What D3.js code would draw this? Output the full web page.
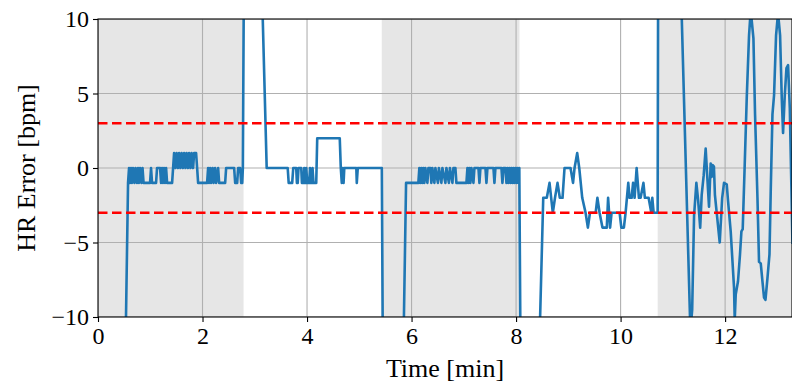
<!DOCTYPE html>
<html>
<head>
<meta charset="utf-8">
<title>HR Error</title>
<script src="https://cdn.jsdelivr.net/npm/d3@7"></script>
<style>
  body { margin: 0; background: #fff; }
  svg { display: block; font-family: "Liberation Serif", "Times New Roman", serif; }
</style>
</head>
<body>
<svg width="792" height="383"></svg>
<script>
// time in minutes and HR error in bpm
var timeMin = [
  0.527, 0.575, 0.594, 0.613, 0.632, 0.651, 0.670, 0.699, 0.718, 0.747, 0.766, 0.785, 0.805, 0.833, 0.852, 0.872,
  0.996, 1.015, 1.034, 1.111, 1.130, 1.188, 1.207, 1.226, 1.245, 1.264, 1.284, 1.303, 1.322, 1.418, 1.437,
  1.456, 1.485, 1.504, 1.533, 1.552, 1.580, 1.600, 1.628, 1.648, 1.676, 1.695, 1.724, 1.743, 1.772, 1.791, 1.820, 1.839, 1.877, 1.897, 1.916,
  2.088, 2.107, 2.126, 2.146, 2.165, 2.193, 2.213, 2.241, 2.261, 2.299, 2.318, 2.433, 2.452, 2.605, 2.625, 2.663, 2.682, 2.720, 2.740, 2.760, 2.772, 2.792,
  3.148, 3.228, 3.630, 3.649, 3.716, 3.736, 3.793, 3.806, 3.822, 3.837, 3.889, 3.902, 3.933, 3.946, 3.960, 3.971, 3.985, 4.004, 4.042, 4.056, 4.067, 4.094, 4.105, 4.124, 4.176,
  4.195, 4.626, 4.646, 4.665, 4.684, 4.699, 4.713, 4.943, 4.952, 4.971, 5.431, 5.450,
  5.845, 5.895, 6.130, 6.149, 6.169, 6.188, 6.207, 6.226, 6.245, 6.264, 6.303, 6.322, 6.360, 6.379, 6.398, 6.437, 6.456, 6.504, 6.523,
  6.571, 6.590, 6.648, 6.667, 6.714, 6.734, 6.782, 6.801, 6.839, 6.858, 7.050, 7.069, 7.088, 7.107, 7.126, 7.146, 7.184, 7.203,
  7.280, 7.299, 7.318, 7.414, 7.433, 7.452, 7.567, 7.586, 7.605, 7.720, 7.739, 7.759, 7.797, 7.816, 7.835, 7.854, 7.874, 7.893,
  7.912, 7.931, 7.950, 7.969, 7.989, 8.008, 8.027, 8.046, 8.062, 8.084,
  8.445, 8.520, 8.588, 8.640, 8.703, 8.745, 8.793, 8.837, 8.889, 8.927, 9.042, 9.090, 9.119, 9.170, 9.209, 9.266, 9.330, 9.374, 9.414,
  9.523, 9.556, 9.598, 9.653, 9.736, 9.761, 9.799, 9.828, 9.981, 10.014, 10.063, 10.096, 10.147, 10.172, 10.211, 10.239, 10.268,
  10.307, 10.351, 10.383, 10.437, 10.465, 10.536, 10.588, 10.607, 10.632, 10.709, 10.718,
  11.120, 11.171, 11.328, 11.345, 11.370, 11.406, 11.450, 11.485, 11.523, 11.552, 11.590, 11.628, 11.657, 11.692, 11.724, 11.743,
  11.762, 11.786, 11.805, 11.839, 11.897, 11.944, 11.979, 12.031, 12.056, 12.107, 12.171, 12.184, 12.203, 12.247, 12.285, 12.312,
  12.337, 12.375, 12.414, 12.458, 12.490, 12.542, 12.573, 12.619, 12.649, 12.682, 12.714, 12.745, 12.772, 12.810, 12.849, 12.874,
  12.906, 12.937, 12.975, 13.013, 13.052, 13.084, 13.109, 13.142, 13.174, 13.205, 13.238, 13.270, 13.289
];
var hrError = [
  -12, -1, 0, -1, 0, -1, 0, -1, 0, -1, 0, -1, 0, -1, 0, -1,
  -1, 0, -1, -1, 0, 0, -1, 0, -1, 0, -1, 0, -1, -1, 0,
  1, 0, 1, 0, 1, 0, 1, 0, 1, 0, 1, 0, 1, 0, 1, 0, 1, 1, 0, -1,
  -1, 0, -1, 0, -1, 0, -1, 0, -1, 0, -1, -1, 0, 0, -1, -1, 0, 0, -1, -1, 0, 13,
  10.6, 0, 0, -1, -1, 0, 0, -1, -1, 0, 0, -1, -1, 0, -1, -1, 0, -1, -1, 0, -1, -1, 0, -1, -1,
  2, 2, 0, -1, 0, -1, 0, 0, -1, 0, 0, -12,
  -12, -1, -1, 0, -1, 0, -1, 0, -1, 0, -1, 0, 0, -1, 0, -1, 0, -1, 0,
  -1, 0, -1, 0, -1, 0, -1, 0, 0, -1, -1, 0, -1, 0, -1, 0, -1, 0,
  0, -1, 0, 0, -1, 0, 0, -1, 0, 0, -1, 0, 0, -1, 0, -1, 0, -1,
  0, -1, 0, -1, 0, -1, 0, -1, 0, -12,
  -12, -2, -2, -1, -3, -2, -1, -2, -2, 0, 0, -1, 0, 1, 0, -2, -3, -4, -3,
  -3, -2, -3, -4, -4, -2, -4, -3, -3, -4, -4, -3, -1, -2, -2, -1, -2,
  0, -2, -2, -1, -2, -2, -3, -2, -3, -3, 12,
  12, 10, -10, -10.6, -9.5, -3.2, -1, -2.2, -4, -1.8, -0.5, 1.3, -0.5, -2.6, 0.3, -0.6,
  0.2, 0.1, -1.8, -3, -5, -2, -1, -1.1, -2.2, -4.25, -8.05, -10.2, -8.5, -7.6, -5.8, -4.25,
  -4.1, 0.2, 4.7, 8.9, 10.6, 8.7, 3.6, -2, -6.3, -6.4, -7.6, -8.7, -8.85, -7.4, -5.8, -1.35,
  3.6, 4.9, 8.9, 10.4, 8.9, 4.7, 2.35, 4.9, 6.7, 6.9, 4, -1.6, -5.1
];
var spanStart = [0, 5.43, 10.71];
var spanEnd = [2.785, 8.065, 13.4];
var thresholds = [3, -3];
var xTicks = [0, 2, 4, 6, 8, 10, 12];
var yTicks = [-10, -5, 0, 5, 10];

var svg = d3.select("svg"),
    plotLeft = 98, plotRight = 792, plotTop = 19, plotBottom = 317;

var x = d3.scaleLinear().domain([0, 13.28]).range([plotLeft, plotRight]);
var y = d3.scaleLinear().domain([-10, 10]).range([plotBottom, plotTop]);

svg.append("defs").append("clipPath").attr("id", "clip")
   .append("rect")
   .attr("x", plotLeft).attr("y", plotTop)
   .attr("width", plotRight - plotLeft).attr("height", plotBottom - plotTop);

var plot = svg.append("g").attr("clip-path", "url(#clip)");

// shaded intervals
plot.selectAll(".span")
    .data(spanStart)
    .enter().append("rect")
    .attr("x", function(d) { return x(d); })
    .attr("y", plotTop)
    .attr("width", function(d, i) { return x(spanEnd[i]) - x(d); })
    .attr("height", plotBottom - plotTop)
    .attr("fill", "#e6e6e6");

// grid
plot.selectAll(".gx").data(xTicks).enter().append("line")
    .attr("x1", function(d) { return x(d); }).attr("x2", function(d) { return x(d); })
    .attr("y1", plotTop).attr("y2", plotBottom)
    .attr("stroke", "#b0b0b0").attr("stroke-width", 1.1);
plot.selectAll(".gy").data(yTicks).enter().append("line")
    .attr("x1", plotLeft).attr("x2", plotRight)
    .attr("y1", function(d) { return y(d); }).attr("y2", function(d) { return y(d); })
    .attr("stroke", "#b0b0b0").attr("stroke-width", 1.1);

// HR error line
var line = d3.line()
    .x(function(d) { return x(d); })
    .y(function(d, i) { return y(hrError[i]); });

plot.append("path")
    .attr("d", line(timeMin))
    .attr("fill", "none")
    .attr("stroke", "#1f77b4")
    .attr("stroke-width", 2.6)
    .attr("stroke-linejoin", "round");

// +-3 bpm limits
plot.selectAll(".thr").data(thresholds).enter().append("line")
    .attr("x1", plotLeft).attr("x2", plotRight)
    .attr("y1", function(d) { return y(d); }).attr("y2", function(d) { return y(d); })
    .attr("stroke", "#ff0000").attr("stroke-width", 2.6)
    .attr("stroke-dasharray", "9.5,4.5");

// frame
svg.append("rect")
   .attr("x", plotLeft).attr("y", plotTop)
   .attr("width", plotRight - plotLeft).attr("height", plotBottom - plotTop)
   .attr("fill", "none").attr("stroke", "#000").attr("stroke-width", 1.1);

// axes
var xAxis = svg.append("g")
    .attr("transform", "translate(0," + plotBottom + ")")
    .call(d3.axisBottom(x).tickValues(xTicks).tickSize(5).tickPadding(5));
var yAxis = svg.append("g")
    .attr("transform", "translate(" + plotLeft + ",0)")
    .call(d3.axisLeft(y).tickValues(yTicks).tickSize(5).tickPadding(4));

[xAxis, yAxis].forEach(function(a) {
    a.select(".domain").remove();
    a.selectAll(".tick line").attr("stroke", "#000").attr("stroke-width", 1.1);
    a.selectAll(".tick text")
     .attr("fill", "#000")
     .attr("font-family", "Liberation Serif, Times New Roman, serif")
     .attr("font-size", "24px");
});

svg.append("text")
   .attr("x", (plotLeft + plotRight) / 2)
   .attr("y", 377)
   .attr("text-anchor", "middle")
   .attr("font-size", "26px")
   .text("Time [min]");

svg.append("text")
   .attr("transform", "translate(35," + ((plotTop + plotBottom) / 2) + ") rotate(-90)")
   .attr("text-anchor", "middle")
   .attr("font-size", "26px")
   .text("HR Error [bpm]");
</script>
</body>
</html>
